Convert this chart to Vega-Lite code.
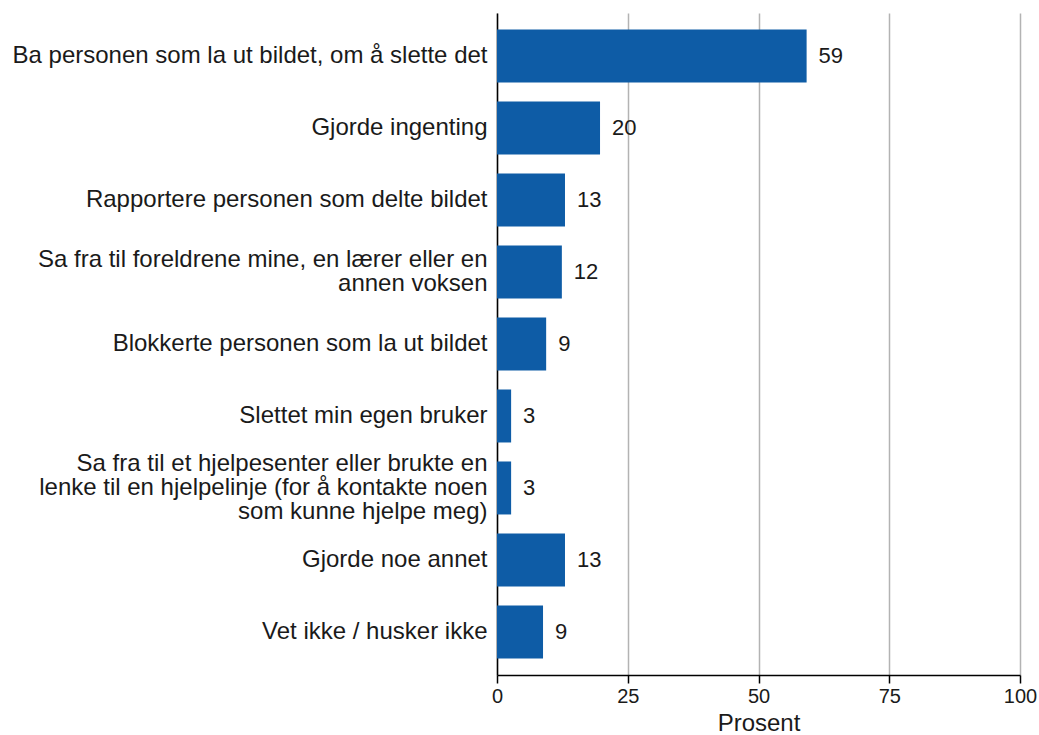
{
  "$schema": "https://vega.github.io/schema/vega-lite/v6.json",
  "autosize": "none",
  "width": 523,
  "height": 662,
  "padding": {"left": 497, "top": 13, "right": 19, "bottom": 60},
  "background": "white",
  "config": {
    "font": "Liberation Sans",
    "view": {"stroke": null}
  },
  "data": {
    "values": [
      {"svar": "Ba personen som la ut bildet, om å slette det", "prosent": 59.2},
      {"svar": "Gjorde ingenting", "prosent": 19.7},
      {"svar": "Rapportere personen som delte bildet", "prosent": 13.0},
      {"svar": "Sa fra til foreldrene mine, en lærer eller en|annen voksen", "prosent": 12.4},
      {"svar": "Blokkerte personen som la ut bildet", "prosent": 9.4},
      {"svar": "Slettet min egen bruker", "prosent": 2.7},
      {"svar": "Sa fra til et hjelpesenter eller brukte en|lenke til en hjelpelinje (for å kontakte noen|som kunne hjelpe meg)", "prosent": 2.7},
      {"svar": "Gjorde noe annet", "prosent": 13.0},
      {"svar": "Vet ikke / husker ikke", "prosent": 8.8}
    ]
  },
  "encoding": {
    "y": {
      "field": "svar",
      "type": "nominal",
      "sort": null,
      "scale": {"paddingInner": 0.264, "paddingOuter": 0.23},
      "axis": {
        "title": null,
        "labelExpr": "split(datum.label, '|')",
        "labelFontSize": 24,
        "labelColor": "#1a1a1a",
        "labelLineHeight": 24,
        "labelPadding": 10,
        "labelLimit": 600,
        "labelOffset": {
          "condition": [
            {"test": "length(split(datum.value, '|')) == 3", "value": -24},
            {"test": "length(split(datum.value, '|')) == 2", "value": -12}
          ],
          "value": 0
        },
        "ticks": false,
        "domainColor": "#000000",
        "domainWidth": 1.5
      }
    },
    "x": {
      "field": "prosent",
      "type": "quantitative",
      "scale": {"domain": [0, 100], "nice": false},
      "axis": {
        "title": "Prosent",
        "titleFontSize": 24,
        "titleFontWeight": "normal",
        "titleColor": "#1a1a1a",
        "titlePadding": 5,
        "values": [0, 25, 50, 75, 100],
        "labelFontSize": 20,
        "labelColor": "#1a1a1a",
        "labelPadding": 3,
        "labelFlush": false,
        "tickColor": "#000000",
        "tickSize": 8,
        "tickWidth": 1.5,
        "domainColor": "#000000",
        "domainWidth": 1.5,
        "grid": true,
        "gridColor": "#b3b3b3",
        "gridWidth": 1.5
      }
    }
  },
  "layer": [
    {
      "mark": {"type": "bar", "color": "#0e5ca6"}
    },
    {
      "mark": {"type": "text", "align": "left", "baseline": "middle", "dx": 12, "fontSize": 22, "color": "#1a1a1a"},
      "encoding": {
        "text": {"field": "prosent", "type": "quantitative", "format": ".0f"}
      }
    }
  ]
}
